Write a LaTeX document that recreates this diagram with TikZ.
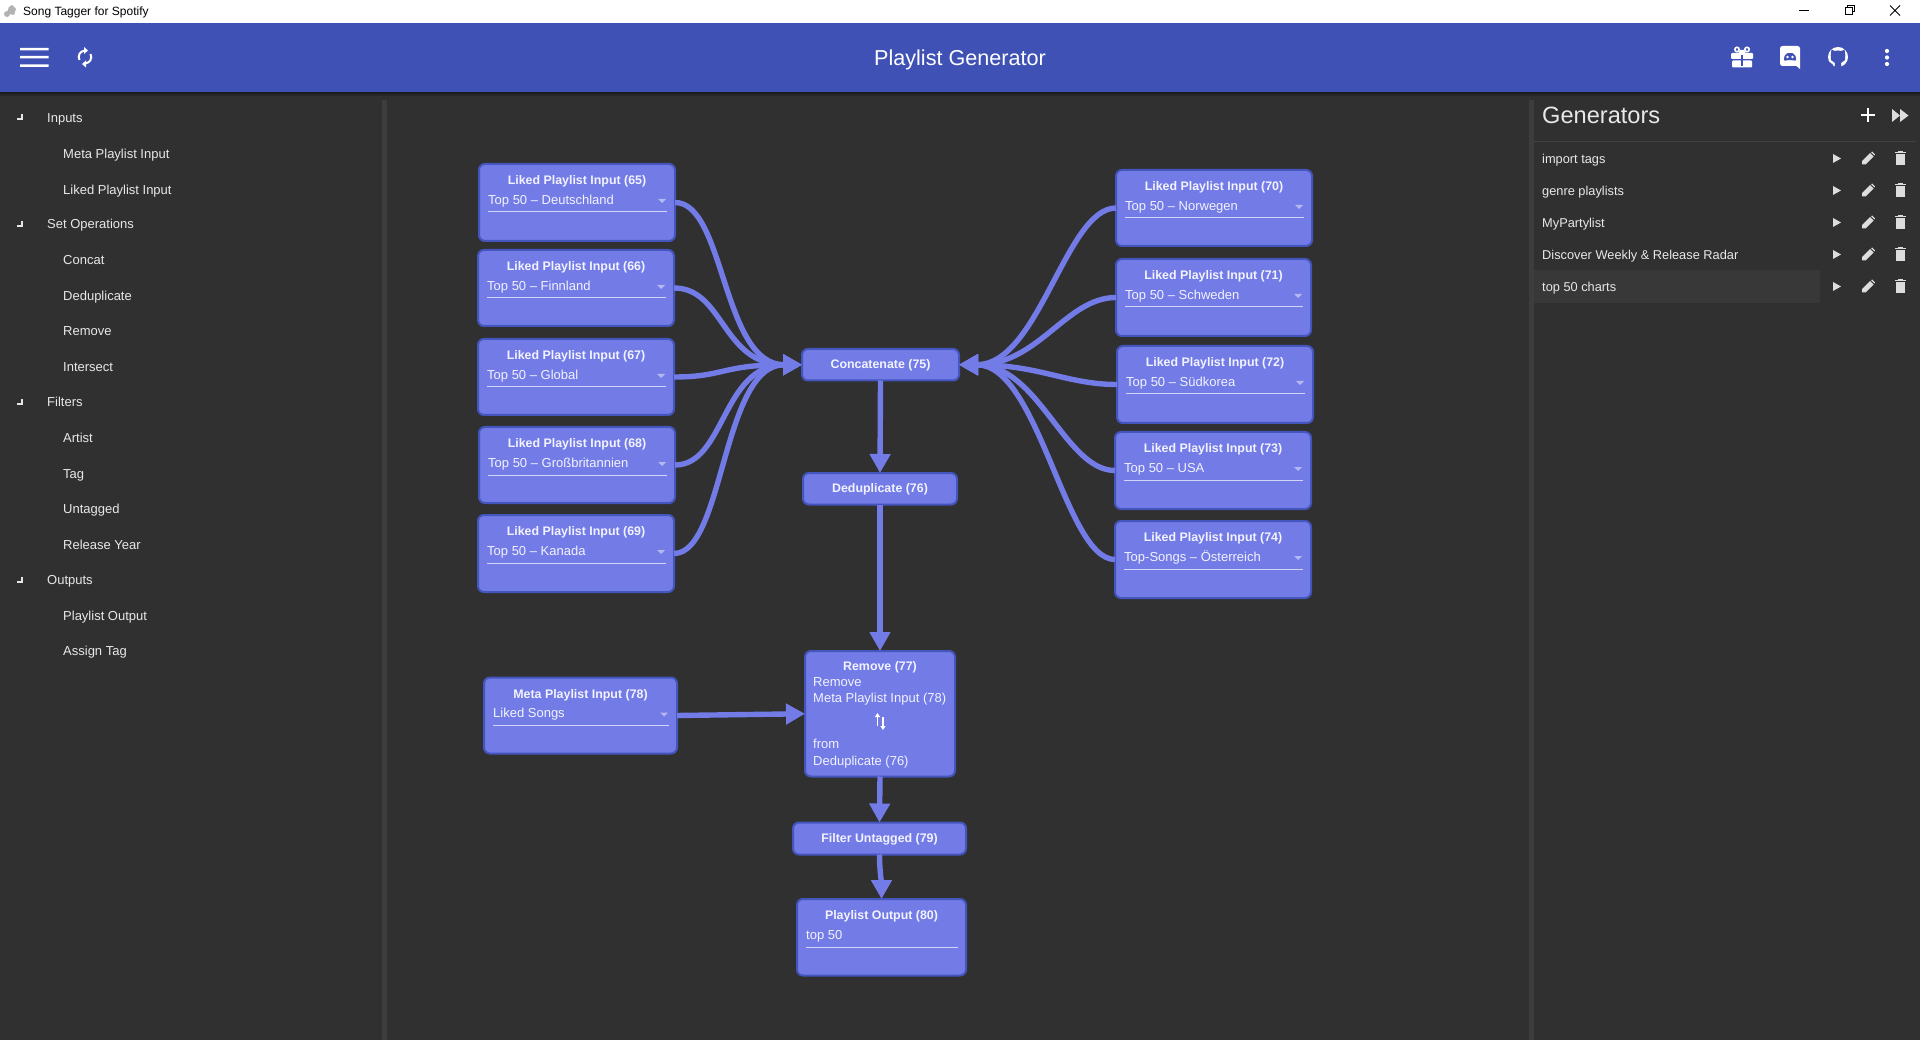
\documentclass[tikz,border=0pt]{standalone}
\usepackage{fontspec}
\setmainfont{Liberation Sans}
\usetikzlibrary{arrows.meta}
\definecolor{bgdark}{HTML}{303030}
\definecolor{barblue}{HTML}{3F51B5}
\definecolor{nodefill}{HTML}{727BE6}
\definecolor{nodeline}{HTML}{4555BE}
\definecolor{sbar}{HTML}{3D3D3D}
\definecolor{rowhi}{HTML}{383838}
\definecolor{txt}{HTML}{E8E8E8}
\definecolor{nodetxt}{HTML}{F2F3FF}
\definecolor{ddarrow}{HTML}{B4B9F2}
\definecolor{icong}{HTML}{DDDDDD}
\tikzset{
  nodebox/.style={draw=nodeline,line width=2pt,fill=nodefill,rounded corners=6pt,inner sep=0pt,outer sep=0pt},
  edge/.style={draw=nodefill,line width=5.4pt,-{Triangle[length=19pt,width=20pt]}},
  tlabel/.style={inner sep=0pt,font=\fontsize{13}{15}\selectfont,text=txt,anchor=west,text height=9.5pt,text depth=3pt},
  nodetitle/.style={inner sep=0pt,font=\fontsize{12.4}{15}\selectfont\bfseries,text=nodetxt,anchor=center,text height=9.5pt,text depth=3pt},
  nodetext/.style={inner sep=0pt,font=\fontsize{13}{15}\selectfont,text=nodetxt,anchor=west,text height=9.5pt,text depth=3pt},
  uline/.style={draw=ddarrow!60!white,line width=1pt},
  dd/.style={fill=ddarrow},
  wicon/.style={fill=white,draw=none},
  gicon/.style={fill=icong,draw=none},
}
% box only
\newcommand{\graphbox}[5]{%
  \pgfmathsetmacro\bcx{(#2+#4)/2}\pgfmathsetmacro\bcy{(#3+#5)/2}%
  \pgfmathsetmacro\bw{#4-#2-2}\pgfmathsetmacro\bh{#5-#3-2}%
  \node[nodebox,minimum width=\bw pt,minimum height=\bh pt] (#1) at (\bcx,\bcy) {};}
% box with title and drop-down
\newcommand{\ddbox}[8]{%
  \graphbox{#1}{#2}{#3}{#4}{#5}%
  \node[nodetitle] (#1t) at (\bcx,#3+18.5) {#6};%
  \node[nodetext] (#1v) at (#2+10,#3+38) {#7};%
  \draw[uline] (#2+10,#3+49) -- (#4-9,#3+49);%
  \ifx#8y\fill[dd] (#4-18,#3+36) -- (#4-10,#3+36) -- (#4-14,#3+40) -- cycle;\fi}
% row icons of the generator list
\newcommand{\rowicons}[1]{%
  \fill[gicon] (1833,#1-4.5) -- (1841,#1) -- (1833,#1+4.5) -- cycle;
  \fill[gicon] (1862,#1+6) -- (1862,#1+2.5) -- (1870,#1-5.5) -- (1873.5,#1-2) -- (1865.5,#1+6) -- cycle;
  \fill[gicon] (1871,#1-6.3) -- (1872.2,#1-7) -- (1875,#1-4.2) -- (1874.3,#1-3) -- cycle;
  \fill[gicon] (1896,#1-4) rectangle (1904.5,#1+6.5);
  \fill[gicon] (1895,#1-6.5) rectangle (1905.5,#1-5);
  \fill[gicon] (1898,#1-7.5) rectangle (1902.5,#1-6);}
\newcommand{\expander}[1]{%
  \fill[white!90!black] (21,#1-3) rectangle (23,#1+3);
  \fill[white!90!black] (16.5,#1+1) rectangle (23,#1+3);}
\begin{document}
\begin{tikzpicture}[x=1pt,y=-1pt]
\useasboundingbox (0,0) rectangle (1920,1040);
\fill[bgdark] (0,0) rectangle (1920,1040);
% window title bar
\fill[white] (0,0) rectangle (1920,23);
\fill[black!30] (9,7) -- (12,5) -- (16,9) -- (15,12) -- (14,15) -- (9.5,14) -- (7.5,11) -- cycle;
\fill[black!30] (7,14) circle (3);
\node[inner sep=0pt,anchor=west,font=\fontsize{12}{14}\selectfont,text=black] (wintitle) at (23,12) {Song Tagger for Spotify};
\draw[black,line width=1pt] (1799,10.5) -- (1809,10.5);
\draw[black,line width=1pt] (1845,7.5) rectangle (1852.5,14.5);
\draw[black,line width=1pt] (1847.5,7.5) -- (1847.5,5.5) -- (1854.5,5.5) -- (1854.5,12) -- (1852.5,12);
\draw[black,line width=1pt] (1890,5.5) -- (1900,15.5) (1900,5.5) -- (1890,15.5);
% app bar
\fill[black!45!bgdark] (0,92) rectangle (1920,94);
\fill[black!20!bgdark] (0,94) rectangle (1920,96);
\fill[barblue] (0,23) rectangle (1920,92);
\fill[white] (20,48) rectangle (48.5,50.5) (20,56) rectangle (48.5,58.5) (20,64.5) rectangle (48.5,67);
\draw[white,line width=2pt] (79.5,60) arc[start angle=151,end angle=262,radius=6.3];
\draw[white,line width=2pt] (90.5,54) arc[start angle=-29,end angle=82,radius=6.3];
\fill[white] (84,47) -- (84,54) -- (88,50.5) -- cycle;
\fill[white] (86,67.5) -- (86,60.5) -- (82,64) -- cycle;
\node[inner sep=0pt,font=\fontsize{21.6}{25}\selectfont,text=white,text height=15.5pt,text depth=4.5pt] (apptitle) at (960,60) {Playlist Generator};
% gift
\fill[white,rounded corners=1pt] (1731,53) rectangle (1753,59);
\fill[white,rounded corners=1pt] (1732,60.5) rectangle (1752,67.5);
\draw[white,line width=1.6pt] (1737,49.5) circle (2.2) (1747,49.5) circle (2.2);
\fill[barblue] (1741,55) rectangle (1743,66);
\fill[white] (1740,50) -- (1744,50) -- (1746,54) -- (1738,54) -- cycle;
% discord
\fill[white,rounded corners=2.5pt] (1780,46) -- (1800,46) -- (1800,66) -- (1780,66) -- cycle;
\fill[white] (1794,64) -- (1800,64) -- (1800,69) -- cycle;
\fill[barblue,rounded corners=2pt] (1783.5,61) -- (1785,54) -- (1790,52.5) -- (1795,54) -- (1796.5,61) -- (1792,60) -- (1788,60) -- cycle;
\fill[white] (1787.5,57) circle (1.4) (1792.5,57) circle (1.4);
% github
\fill[white] (1838,57) circle (10);
\fill[barblue] (1831.5,49.5) -- (1834.5,51) -- (1838,50.5) -- (1841.5,51) -- (1844.5,49.5) -- (1845.3,55) -- (1845,60) -- (1841,63) -- (1841.5,68) -- (1834.5,68) -- (1835,63) -- (1831,60) -- (1830.7,55) -- cycle;
\fill[barblue] (1833,64.8) -- (1829.5,62) -- (1828.8,63) -- (1833,66.5) -- cycle;
% kebab
\fill[white] (1887,51) circle (2.1) (1887,57.5) circle (2.1) (1887,64) circle (2.1);
% scrollbars
\fill[sbar] (382,100) rectangle (387,1040);
\fill[sbar] (1529,100) rectangle (1534,1040);
% left tree
\expander{117}\expander{224}\expander{402}\expander{580}
\node[tlabel] (t1) at (47,119) {Inputs};
\node[tlabel] (t2) at (63,155) {Meta Playlist Input};
\node[tlabel] (t3) at (63,191) {Liked Playlist Input};
\node[tlabel] (t4) at (47,225.5) {Set Operations};
\node[tlabel] (t5) at (63,261.5) {Concat};
\node[tlabel] (t6) at (63,297) {Deduplicate};
\node[tlabel] (t7) at (63,332.5) {Remove};
\node[tlabel] (t8) at (63,368.5) {Intersect};
\node[tlabel] (t9) at (47,403.5) {Filters};
\node[tlabel] (t10) at (63,439.5) {Artist};
\node[tlabel] (t11) at (63,475) {Tag};
\node[tlabel] (t12) at (63,510.5) {Untagged};
\node[tlabel] (t13) at (63,546) {Release Year};
\node[tlabel] (t14) at (47,581.5) {Outputs};
\node[tlabel] (t15) at (63,617) {Playlist Output};
\node[tlabel] (t16) at (63,652.5) {Assign Tag};
% generators panel
\node[inner sep=0pt,anchor=west,font=\fontsize{23.6}{28}\selectfont,text=txt] (gentitle) at (1542,115) {Generators};
\fill[white] (1861,113.8) rectangle (1875,116.2);
\fill[white] (1866.8,108) rectangle (1869.2,122);
\fill[icong] (1892,109) -- (1900,115.5) -- (1892,122) -- cycle;
\fill[icong] (1900,109) -- (1908.5,115.5) -- (1900,122) -- cycle;
\fill[sbar!130!bgdark] (1534,141) rectangle (1916,142.5);
\fill[rowhi] (1534,270) rectangle (1820,303);
\node[tlabel,font=\fontsize{12.8}{15}\selectfont] (g1) at (1542,160) {import tags};
\node[tlabel,font=\fontsize{12.8}{15}\selectfont] (g2) at (1542,192) {genre playlists};
\node[tlabel,font=\fontsize{12.8}{15}\selectfont] (g3) at (1542,224) {MyPartylist};
\node[tlabel,font=\fontsize{12.8}{15}\selectfont] (g4) at (1542,256) {Discover Weekly \& Release Radar};
\node[tlabel,font=\fontsize{12.8}{15}\selectfont] (g5) at (1542,288) {top 50 charts};
\rowicons{158.5}\rowicons{190.5}\rowicons{222.5}\rowicons{254.5}\rowicons{286.5}
% graph nodes
\ddbox{n65}{478}{163}{676}{242}{Liked Playlist Input (65)}{Top 50 – Deutschland}{y}
\ddbox{n66}{477}{249}{675}{327}{Liked Playlist Input (66)}{Top 50 – Finnland}{y}
\ddbox{n67}{477}{338}{675}{416}{Liked Playlist Input (67)}{Top 50 – Global}{y}
\ddbox{n68}{478}{426}{676}{504}{Liked Playlist Input (68)}{Top 50 – Großbritannien}{y}
\ddbox{n69}{477}{514}{675}{593}{Liked Playlist Input (69)}{Top 50 – Kanada}{y}
\ddbox{n70}{1115}{169}{1313}{247}{Liked Playlist Input (70)}{Top 50 – Norwegen}{y}
\ddbox{n71}{1115}{258}{1312}{337}{Liked Playlist Input (71)}{Top 50 – Schweden}{y}
\ddbox{n72}{1116}{345}{1314}{424}{Liked Playlist Input (72)}{Top 50 – Südkorea}{y}
\ddbox{n73}{1114}{431}{1312}{510}{Liked Playlist Input (73)}{Top 50 – USA}{y}
\ddbox{n74}{1114}{520}{1312}{599}{Liked Playlist Input (74)}{Top-Songs – Österreich}{y}
\ddbox{n78}{483}{676.5}{678}{754.5}{Meta Playlist Input (78)}{Liked Songs}{y}
\ddbox{n80}{796}{898}{967}{976.5}{Playlist Output (80)}{top 50}{n}
\graphbox{n75}{801}{348}{960}{381.5}
\node[nodetitle] (n75t) at ([yshift=-1pt]n75.center) {Concatenate (75)};
\graphbox{n76}{802}{472}{958}{505.5}
\node[nodetitle] (n76t) at ([yshift=-.5pt]n76.center) {Deduplicate (76)};
\graphbox{n79}{792}{821.5}{967}{855.5}
\node[nodetitle] (n79t) at ([yshift=-.5pt]n79.center) {Filter Untagged (79)};
\graphbox{n77}{804}{650}{956}{777.5}
\node[nodetitle] (n77t) at (880,667) {Remove (77)};
\node[nodetext] (n77a) at (813,683) {Remove};
\node[nodetext] (n77b) at (813,699) {Meta Playlist Input (78)};
\node[nodetext] (n77c) at (813,745.5) {from};
\node[nodetext] (n77d) at (813,762) {Deduplicate (76)};
\draw[white,line width=1.5pt,-{Triangle[length=4pt,width=5pt]}] (877.5,726) -- (877.5,713);
\draw[white,line width=1.5pt,-{Triangle[length=4pt,width=5pt]}] (883,717) -- (883,730);
% connectors
\foreach \n in {n65,n66,n67,n68,n69}
  \draw[edge] (\n.east) .. controls +(50,0) and +(-80,0) .. (n75.west);
\foreach \n in {n70,n71,n72,n73,n74}
  \draw[edge] (\n.west) .. controls +(-50,0) and +(80,0) .. (n75.east);
\draw[edge] (n75.south) -- (n76.north);
\draw[edge] (n76.south) -- (n77.north);
\draw[edge] (n78.east) -- (n77.west);
\draw[edge] (n77.south) -- (n79.north);
\draw[edge] (n79.south) .. controls +(0,15) and +(0,-15) .. (n80.north);
\end{tikzpicture}
\end{document}
